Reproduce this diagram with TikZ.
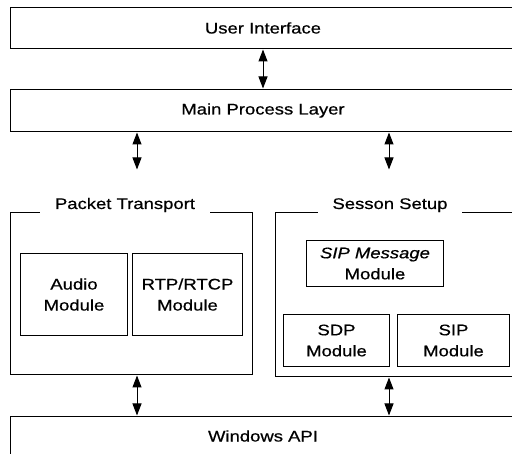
\documentclass[tikz,border=0pt]{standalone}
\usepackage{fontspec}
\setmainfont{Liberation Sans}[FakeStretch=1.2,FakeBold=0.6]
\usetikzlibrary{arrows.meta}
\begin{document}
\begin{tikzpicture}[x=1pt,y=-1pt,
  every node/.style={font=\fontsize{15.4}{21}\selectfont},
  box/.style={draw, line width=1pt, rectangle, anchor=north west, inner sep=0pt, align=center},
  grp/.style={draw, line width=1pt, rectangle, anchor=north west, inner sep=0pt},
  gtitle/.style={fill=white, inner xsep=0pt, inner ysep=3pt, anchor=base},
  dar/.style={line width=1pt, {Triangle[width=9pt,length=12pt]}-{Triangle[width=9pt,length=12pt]}, shorten <=0.5pt, shorten >=0.5pt}]
\useasboundingbox (0,0) rectangle (512,454);
\begin{scope}
\clip (0,0) rectangle (512,454);
% top layers
\node[box, minimum width=505pt, minimum height=41pt] (ui) at (10,7) {User Interface};
\node[box, minimum width=505pt, minimum height=42pt] (mpl) at (10,89) {Main Process Layer};
\node[box, minimum width=505pt, minimum height=39pt] (wapi) at (10,416) {Windows API};
% groups
\node[grp, minimum width=242pt, minimum height=162pt] (pt) at (10,212) {};
\node[gtitle, minimum width=170pt] (ptt) at (125,209) {Packet Transport};
\node[grp, minimum width=245pt, minimum height=164pt] (ss) at (275,212) {};
\node[gtitle, minimum width=144pt] (sst) at (390,209) {Sesson Setup};
% modules
\node[box, minimum width=107pt, minimum height=82pt] (audio) at (20,253) {Audio\\Module};
\node[box, minimum width=110pt, minimum height=82pt] (rtp) at (132,253) {RTP/RTCP\\Module};
\node[box, minimum width=137pt, minimum height=46pt] (sipm) at (306,240) {\itshape SIP Message\\Module};
\node[box, minimum width=106pt, minimum height=52pt] (sdp) at (283,314) {SDP\\Module};
\node[box, minimum width=112pt, minimum height=52pt] (sip) at (397,314) {SIP\\Module};
% connectors
\coordinate (a1) at (137,170);
\coordinate (a2) at (389,170);
\draw[dar] (ui.south -| 263,0) -- (mpl.north -| 263,0);
\draw[dar] (mpl.south -| a1) -- (a1);
\draw[dar] (mpl.south -| a2) -- (a2);
\draw[dar] (pt.south -| a1) -- (wapi.north -| a1);
\draw[dar] (ss.south -| a2) -- (wapi.north -| a2);
\end{scope}
\end{tikzpicture}
\end{document}
